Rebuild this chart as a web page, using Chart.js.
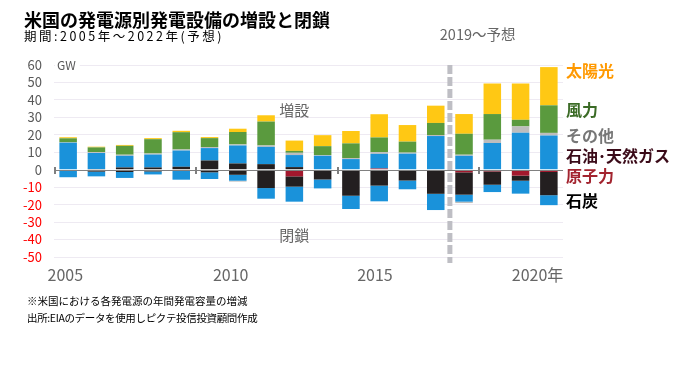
<!DOCTYPE html>
<html lang="ja">
<head>
<meta charset="utf-8">
<title>米国の発電源別発電設備の増設と閉鎖</title>
<script src="https://cdn.jsdelivr.net/npm/chart.js@4/dist/chart.umd.min.js"></script>
<style>
  html, body { margin: 0; padding: 0; background: #fff; }
  #wrap { width: 687px; height: 365px; }
</style>
</head>
<body>
<div id="wrap"><canvas id="chart" width="687" height="365"></canvas></div>
<script>
// Data (GW)
const years = ['2005','2006','2007','2008','2009','2010','2011','2012','2013',
  '2014','2015','2016','2017','2018','2019','2020','2021','2022'];

// additions
const solarAdd   = [0.6, 0.4, 0.5, 0.6, 0.8, 0.6, 1.9, 3.6, 5.9, 6.3, 7.1, 13.3, 9.5, 9.9, 11.3, 17.5, 20.8, 21.9];
const windAdd    = [2.3, 2.7, 5.1, 8.2, 9.9, 5.1, 7.1, 13.7, 1.1, 5.1, 8.4, 8.4, 6.3, 6.9, 12.0, 14.7, 3.8, 15.8];
const otherAdd   = [0.2, 0.5, 0.6, 0.6, 0.6, 0.6, 0.6, 0.8, 1.3, 0.4, 0.6, 1.0, 0.6, 0.6, 0.6, 1.9, 3.6, 1.5];
const gasAdd     = [15.5, 9.2, 6.7, 7.4, 9.3, 7.1, 10.3, 9.9, 6.9, 8.0, 6.1, 8.4, 9.2, 19.3, 8.0, 15.3, 21.2, 19.6];
const nuclearAdd = [0, 0, 0, 0, 0, 0, 0, 0, 0, 0, 0, 0.7, 0, 0, 0, 0, 0, 0];
const coalAdd    = [0, 0.4, 1.3, 1.3, 1.7, 5.3, 3.6, 3.2, 1.5, 0, 0, 0, 0, 0, 0, 0, 0, 0];

// closures
const nuclearRet = [0, 0, 0, 0, 0, 0, 0, 0, -3.8, -0.6, 0, -0.5, 0, -0.6, -1.5, -1.0, -3.4, -1.3];
const coalRet    = [-0.3, -1.1, -1.3, -1.0, -0.6, -1.5, -2.9, -10.5, -5.9, -5.0, -14.9, -8.6, -6.2, -13.2, -12.8, -7.6, -2.9, -13.3];
const gasRet     = [-4.0, -2.7, -3.4, -1.7, -5.1, -3.8, -3.4, -6.1, -8.6, -5.1, -7.6, -9.0, -5.0, -9.3, -4.0, -4.2, -7.4, -5.7];
const otherRet   = [0, 0, 0, 0, 0, 0, -0.5, 0, 0, 0, 0, 0, 0, 0, -0.8, 0, 0, 0];

// axis labels
const yTicks = { min: -50, max: 60, step: 10 };
const xTickPos = [-0.1, 5.75, 10.85, 16.6];
const xTickLabels = ['2005', '2010', '2015', '2020年'];
const sectionMarks = [-0.5, 4.5, 9.5, 14.5];
const forecastFrom = 13.5;

// right-hand labels: text, colour, level in GW
const seriesNames  = ['太陽光', '風力', 'その他', '石油･天然ガス', '原子力', '石炭'];
const seriesLevels = [56.5, 34, 19.5, 7.7, -3.7, -18];

// Colour palette
const colors = {
  solar: '#FFC814',
  wind: '#5A9A3E',
  other: '#BDBDBD',
  gas: '#1A92DA',
  nuclear: '#A3182D',
  coal: '#231F20'
};
const labelColors = ['#FF9900', '#3B6B26', '#777777', '#3A0A18', '#A3242F', '#000000'];

const FONT = '"Noto Sans CJK JP", "Noto Sans", sans-serif';

function ds(label, data, color) {
  return { label: label, data: data, backgroundColor: color, borderWidth: 0, stack: 's' };
}

// Extra drawing: zero line, section marks, forecast divider, texts
const decor = {
  id: 'decor',
  afterDatasetsDraw(chart) {
    const ctx = chart.ctx;
    const x = chart.scales.x;
    const y = chart.scales.y;
    const area = chart.chartArea;
    const y0 = y.getPixelForValue(0);
    const step = x.width / years.length;

    ctx.save();
    // zero line
    ctx.strokeStyle = '#808080';
    ctx.lineWidth = 1;
    ctx.beginPath();
    ctx.moveTo(area.left, Math.round(y0) + 0.5);
    ctx.lineTo(area.right, Math.round(y0) + 0.5);
    ctx.stroke();

    // small marks every 5 years
    ctx.fillStyle = '#7F7F7F';
    sectionMarks.forEach(v => {
      const px = x.left + (v + 0.5) * step;
      ctx.fillRect(Math.round(px), Math.round(y0) - 3, 2, 7);
    });

    // forecast divider
    const fx = x.left + (forecastFrom + 0.5) * step;
    ctx.strokeStyle = '#BEBEC4';
    ctx.lineWidth = 5;
    ctx.setLineDash([9, 3]);
    ctx.beginPath();
    ctx.moveTo(fx, area.top);
    ctx.lineTo(fx, area.bottom + 6);
    ctx.stroke();
    ctx.restore();
  },
  afterDraw(chart) {
    const ctx = chart.ctx;
    const x = chart.scales.x;
    const y = chart.scales.y;
    const area = chart.chartArea;
    const step = x.width / years.length;

    ctx.save();
    ctx.textBaseline = 'middle';

    // title block
    ctx.fillStyle = '#000';
    ctx.font = 'bold 18px ' + FONT;
    ctx.fillText('米国の発電源別発電設備の増設と閉鎖', 24, 20);
    ctx.font = '12.5px ' + FONT;
    ctx.letterSpacing = '2.5px';
    ctx.fillText('期間:2005年〜2022年(予想)', 24, 36);
    ctx.letterSpacing = '0px';

    // unit
    ctx.font = '12px ' + FONT;
    const gw = 'GW';
    const gwW = ctx.measureText(gw).width;
    ctx.fillStyle = '#fff';
    ctx.fillRect(area.left + 1, area.top - 6, gwW + 6, 12);
    ctx.fillStyle = '#595959';
    ctx.fillText(gw, area.left + 3, area.top + 0.5);

    // 増設 / 閉鎖
    ctx.font = '15px ' + FONT;
    ctx.textAlign = 'center';
    ctx.fillStyle = '#666';
    const mx = x.left + 8.5 * step;
    ctx.fillText('増設', mx, y.getPixelForValue(33.8));
    ctx.fillText('閉鎖', mx, y.getPixelForValue(-37.3));

    // forecast note
    ctx.font = '14.5px ' + FONT;
    ctx.fillText('2019〜予想', x.left + (14.5 + 0.5) * step - 0.5, 34);

    // series labels on the right
    ctx.textAlign = 'left';
    ctx.font = 'bold 16px ' + FONT;
    seriesNames.forEach((name, i) => {
      ctx.fillStyle = labelColors[i];
      ctx.fillText(name, area.right + 3, y.getPixelForValue(seriesLevels[i]));
    });

    // footnotes
    ctx.fillStyle = '#000';
    ctx.font = '10.5px ' + FONT;
    ctx.fillText('※米国における各発電源の年間発電容量の増減', 27, 301);
    ctx.letterSpacing = '-0.35px';
    ctx.fillText('出所:EIAのデータを使用しピクテ投信投資顧問作成', 27, 318);
    ctx.letterSpacing = '0px';
    ctx.restore();
  }
};

const config = {
  type: 'bar',
  data: {
    labels: years,
    datasets: [
      ds('原子力', nuclearAdd, colors.nuclear),
      ds('石炭', coalAdd, colors.coal),
      ds('石油･天然ガス', gasAdd, colors.gas),
      ds('その他', otherAdd, colors.other),
      ds('風力', windAdd, colors.wind),
      ds('太陽光', solarAdd, colors.solar),
      ds('原子力(閉鎖)', nuclearRet, colors.nuclear),
      ds('石炭(閉鎖)', coalRet, colors.coal),
      ds('石油･天然ガス(閉鎖)', gasRet, colors.gas),
      ds('その他(閉鎖)', otherRet, colors.other)
    ]
  },
  options: {
    responsive: false,
    animation: false,
    devicePixelRatio: 1,
    layout: { padding: { top: 65, right: 124, left: 0, bottom: 0 } },
    datasets: { bar: { barPercentage: 0.62, categoryPercentage: 1 } },
    plugins: {
      legend: { display: false },
      tooltip: { enabled: false }
    },
    scales: {
      x: {
        type: 'category',
        stacked: true,
        display: false
      },
      xl: {
        type: 'linear',
        position: 'bottom',
        offset: false,
        min: -0.5,
        max: 17.5,
        grid: { display: false, drawTicks: false },
        border: { display: false },
        afterBuildTicks: (scale) => { scale.ticks = xTickPos.map(v => ({ value: v })); },
        afterFit: (scale) => { scale.height = 108; },
        ticks: {
          autoSkip: false,
          maxRotation: 0,
          padding: 8,
          color: '#666',
          font: { family: FONT, size: 16 },
          callback: (v, i) => xTickLabels[i]
        }
      },
      y: {
        stacked: true,
        min: yTicks.min,
        max: yTicks.max,
        afterFit: (scale) => { scale.width = 54; },
        grid: {
          color: (c) => c.tick && c.tick.value === 0 ? 'rgba(0,0,0,0)' : '#EEEAF2',
          drawTicks: false
        },
        border: { display: false },
        ticks: {
          stepSize: yTicks.step,
          autoSkip: false,
          padding: 12,
          color: (c) => c.tick.value < 0 ? '#FF0000' : '#595959',
          font: { family: FONT, size: 13 }
        }
      }
    }
  },
  plugins: [decor]
};

new Chart(document.getElementById('chart'), config);
</script>
</body>
</html>
